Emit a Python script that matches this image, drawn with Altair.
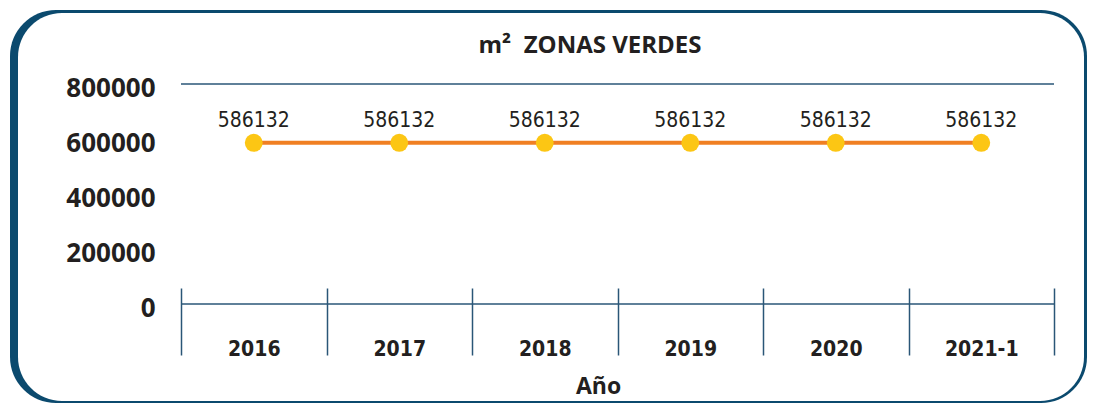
import altair as alt
import pandas as pd

years = ["2016", "2017", "2018", "2019", "2020", "2021-1"]
values = [586132, 586132, 586132, 586132, 586132, 586132]
y_ticks = [0, 200000, 400000, 600000, 800000]
title_text = "m²\u00a0\u00a0ZONAS VERDES"
x_title = "Año"

df = pd.DataFrame({"year": years, "value": values})

DARK = "#0b4a6e"
AXIS = "#2a5677"
TXT = "#231f20"
COND = "DejaVu Sans Condensed"
WIDE = "Open Sans, Lato, Noto Sans"

W, H = 873, 220

frame_data = alt.Data(values=[{}])
frame_outer = alt.Chart(frame_data).mark_rect(
    color=DARK, cornerRadius=46
).encode(
    x=alt.value(-171), x2=alt.value(906), y=alt.value(-74), y2=alt.value(319)
)
frame_inner = alt.Chart(frame_data).mark_rect(
    color="white", cornerRadius=44
).encode(
    x=alt.value(-163), x2=alt.value(903), y=alt.value(-71), y2=alt.value(317)
)
title_mark = alt.Chart(alt.Data(values=[{"t": title_text}])).mark_text(
    font=WIDE, fontWeight="bold", fontSize=24, color=TXT,
    align="center", baseline="alphabetic",
).encode(text="t:N", x=alt.value(409), y=alt.value(-31))

x_enc = alt.X(
    "year:N",
    sort=years,
    scale=alt.Scale(type="band", paddingInner=0, paddingOuter=0),
    axis=alt.Axis(
        title=x_title,
        offset=-16,
        domain=False,
        ticks=True,
        tickSize=67,
        tickBand="extent",
        tickColor=AXIS,
        tickWidth=1.5,
        labelPadding=0,
        labelBaseline="alphabetic",
        labelAngle=0,
        labelFont=COND,
        labelFontWeight="bold",
        labelFontSize=21,
        labelColor=TXT,
        titleFont=WIDE,
        titleFontWeight="bold",
        titleFontSize=23,
        titleColor=TXT,
        titleX=417,
        titleY=105,
        titleBaseline="alphabetic",
        titleAnchor="middle",
        zindex=2,
    ),
)
y_enc = alt.Y(
    "value:Q",
    scale=alt.Scale(domain=[0, 800000]),
    axis=alt.Axis(
        title=None,
        values=y_ticks,
        format="d",
        grid=False,
        domain=False,
        ticks=False,
        tickSize=0,
        labelPadding=26,
        labelOffset=4,
        labelFont=WIDE,
        labelFontWeight="bold",
        labelFontSize=26,
        labelColor=TXT,
        zindex=2,
    ),
)

base = alt.Chart(df)
line = base.mark_line(color="#f07f23", strokeWidth=4).encode(x=x_enc, y=y_enc)
pts = base.mark_circle(size=320, color="#fcc614", opacity=1).encode(x=x_enc, y=y_enc)
labels = base.mark_text(
    dy=-16, baseline="alphabetic", font=COND, fontSize=21, color=TXT
).encode(x=x_enc, y=y_enc, text=alt.Text("value:Q", format="d"))
top_rule = alt.Chart(frame_data).mark_rule(color=AXIS, strokeWidth=1.5).encode(y=alt.datum(800000))
base_rule = alt.Chart(frame_data).mark_rule(color=AXIS, strokeWidth=1.5).encode(y=alt.datum(0))

chart = alt.layer(
    frame_outer, frame_inner, title_mark, top_rule, base_rule, line, pts, labels
).properties(
    width=W,
    height=H,
    autosize=alt.AutoSizeParams(type="none"),
    padding={"left": 173, "top": 76, "right": 34, "bottom": 99},
).configure_view(stroke=None)

chart.save("out.html", embed_options={"renderer": "svg", "actions": False})
